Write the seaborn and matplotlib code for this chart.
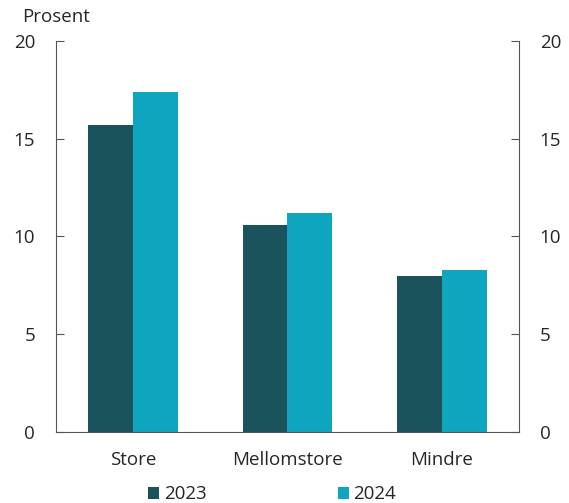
import pandas as pd
import matplotlib.pyplot as plt
import seaborn as sns

# data lest av fra figuren
kategorier = ["Store", "Mellomstore", "Mindre"]
verdier_2023 = [15.7, 10.6, 8.0]
verdier_2024 = [17.4, 11.2, 8.3]
aar = ["2023", "2024"]
farger = ["#1a535c", "#0ea5bf"]

df = pd.DataFrame({
    "kategori": kategorier * 2,
    "aar": [aar[0]] * 3 + [aar[1]] * 3,
    "verdi": verdier_2023 + verdier_2024,
})

sns.set_style("white")
plt.rcParams["font.family"] = ["Open Sans", "DejaVu Sans"]

fig = plt.figure(figsize=(5.69, 5.03), dpi=100)
ax = fig.add_axes([0.0984, 0.1412, 0.8136, 0.7773])

sns.barplot(data=df, x="kategori", y="verdi", hue="aar", palette=farger,
            width=0.58, gap=0, linewidth=0, saturation=1, ax=ax, legend=True)

ax.set_ylim(0, 20)
ax.set_xlim(-0.5, 2.5)
ax.set_yticks([0, 5, 10, 15, 20])
ax.set_xlabel("")
ax.set_ylabel("")
ax.tick_params(axis="x", which="major", length=0, labelsize=13.5, pad=14)
ax.set_xticks([0.5, 1.5], minor=True)
ax.tick_params(axis="x", which="minor", direction="in", length=6, color="#555555", width=0.8)
ax.tick_params(axis="y", direction="in", length=6, labelsize=13.5, color="#555555", width=0.8,
               left=True, right=True, labelleft=True, labelright=True, pad=15)

for s in ["left", "bottom", "right"]:
    ax.spines[s].set_visible(True)
    ax.spines[s].set_color("#555555")
    ax.spines[s].set_linewidth(0.8)
ax.spines["top"].set_visible(False)

fig.text(0.039, 0.948, "Prosent", fontsize=13.5, ha="left", va="bottom")

handles, labels = ax.get_legend_handles_labels()
ax.get_legend().remove()
fig.legend(handles, labels, loc="lower center", bbox_to_anchor=(0.478, -0.034), ncol=2,
           frameon=False, fontsize=13.5, handlelength=0.6, handleheight=0.6,
           handletextpad=0.25, columnspacing=7.0)

plt.savefig("out.png", dpi=100)
